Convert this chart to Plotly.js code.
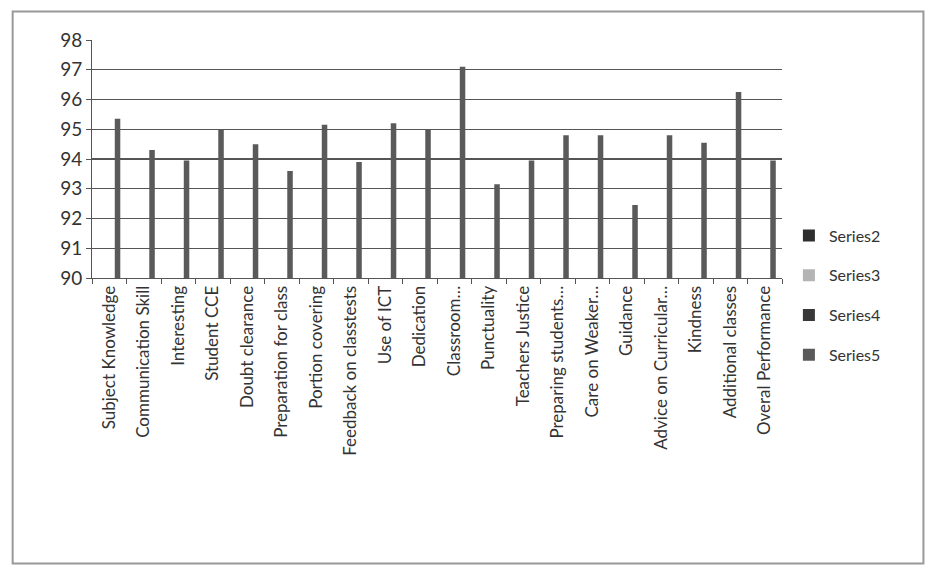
<!DOCTYPE html>
<html>
<head>
<meta charset="utf-8">
<script src="https://cdn.plot.ly/plotly-3.0.1.min.js"></script>
<style>html,body{margin:0;padding:0;background:#fff;}#chart{width:932px;height:573px;}</style>
</head>
<body>
<div id="chart"></div>
<script>
const categories = ["Subject Knowledge","Communication Skill","Interesting","Student CCE","Doubt clearance","Preparation for class","Portion covering","Feedback on classtests","Use of ICT","Dedication","Classroom…","Punctuality","Teachers Justice","Preparing students…","Care on Weaker…","Guidance","Advice on Curricular…","Kindness","Additional classes","Overal Performance"];
const series2 = categories.map(() => null);
const series3 = categories.map(() => null);
const series4 = categories.map(() => null);
const series5 = [95.35,94.3,93.95,95.0,94.5,93.6,95.15,93.9,95.2,95.0,97.1,93.15,93.95,94.8,94.8,92.45,94.8,94.55,96.25,93.95];
const yTicks = [90,91,92,93,94,95,96,97,98];
const seriesNames = ["Series2","Series3","Series4","Series5"];
const seriesColors = ["#2e2e2e","#b4b4b4","#383838","#5a5a5a"];
const seriesData = [series2, series3, series4, series5];

const traces = seriesData.map((vals, i) => ({
  type: "bar",
  name: seriesNames[i],
  x: categories,
  y: vals,
  marker: {color: seriesColors[i], line: {width: 0}},
  legendgroup: "g" + i,
  hoverinfo: "y"
}));

const layout = {
  width: 932, height: 573,
  margin: {l: 92, r: 150, t: 40, b: 295},
  paper_bgcolor: "#ffffff",
  plot_bgcolor: "#ffffff",
  barmode: "group",
  bargap: 0.36,
  bargroupgap: 0,
  font: {family: "Lato, 'Open Sans', sans-serif", color: "#333"},
  xaxis: {
    type: "category",
    tickangle: -90,
    tickfont: {size: 17, color: "#333"},
    showline: true, linecolor: "#555", linewidth: 1,
    ticks: "outside", tickson: "boundaries", ticklen: 5, tickcolor: "#555",
    showgrid: false
  },
  yaxis: {
    range: [90, 98],
    tickvals: yTicks,
    tickfont: {size: 19, color: "#333"},
    showgrid: true, gridcolor: "#555", gridwidth: 1.2,
    showline: true, linecolor: "#555", linewidth: 1,
    ticks: "outside", ticklen: 5, tickcolor: "#555",
    zeroline: false,
    fixedrange: true
  },
  showlegend: true,
  legend: {
    x: 1.01, xanchor: "left", y: 0.25, yanchor: "top",
    font: {size: 16, color: "#333"},
    tracegroupgap: 16,
    traceorder: "grouped",
    itemwidth: 30
  },
  shapes: [{
    type: "rect", xref: "paper", yref: "paper",
    x0: -0.115, x1: 1.205, y0: -1.20, y1: 1.12,
    line: {color: "#999", width: 2}
  }]
};
Plotly.newPlot("chart", traces, layout, {displayModeBar: false, staticPlot: true});
</script>
</body>
</html>
